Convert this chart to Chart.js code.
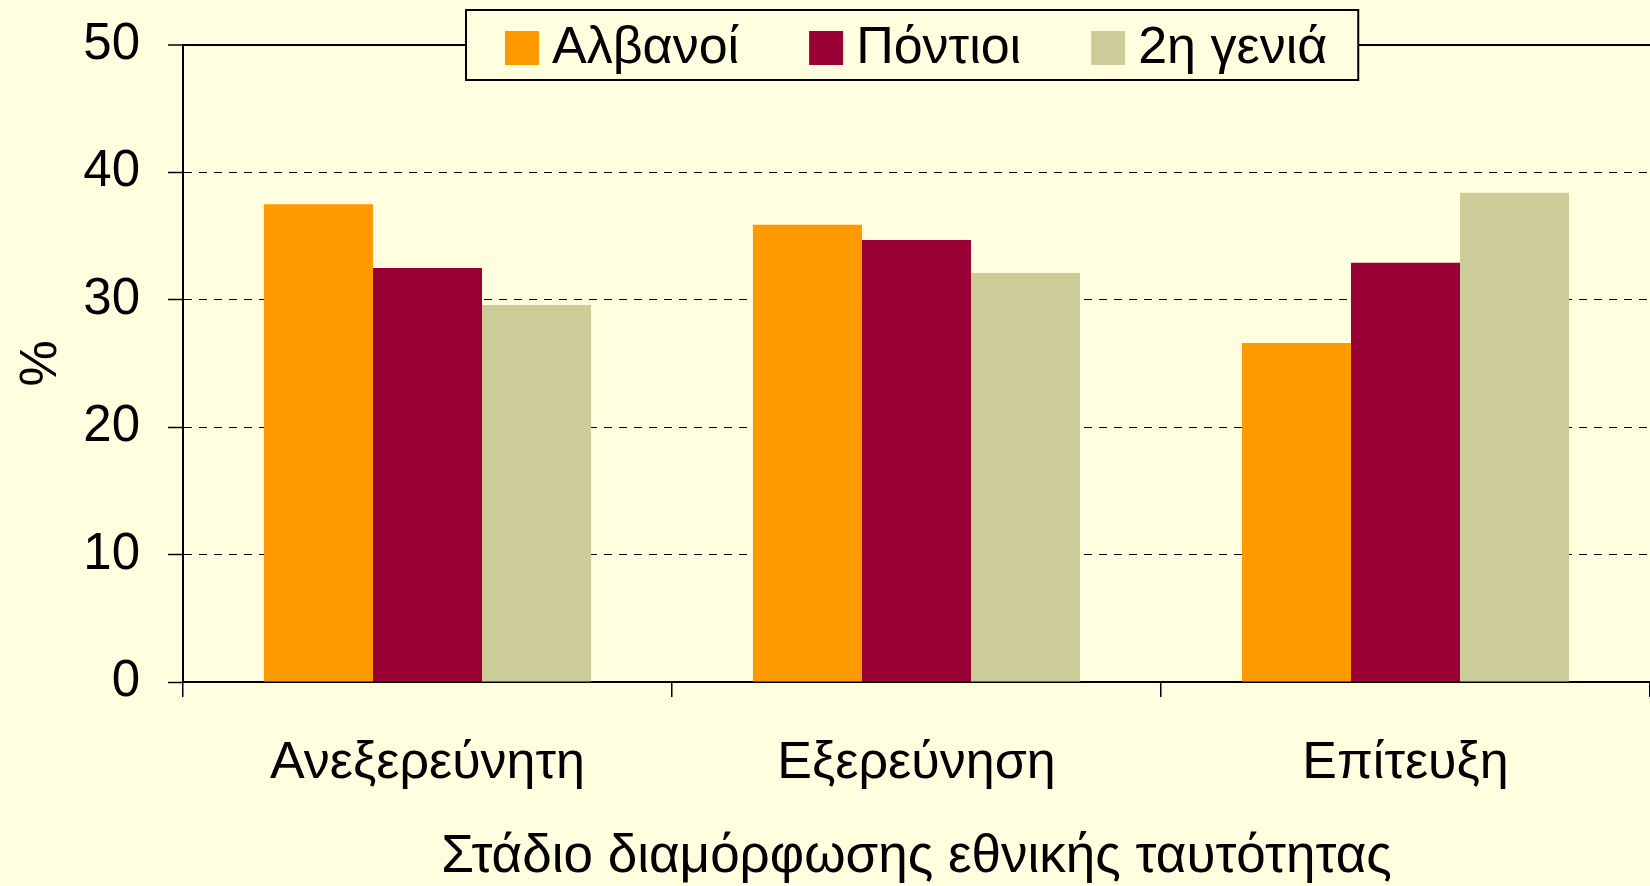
<!DOCTYPE html>
<html lang="el">
<head>
<meta charset="utf-8">
<title>Στάδιο διαμόρφωσης εθνικής ταυτότητας</title>
<script src="https://cdn.jsdelivr.net/npm/chart.js@4"></script>
<style>
    html, body { margin: 0; padding: 0; background: #FFFFE0; }
    #wrap { width: 1650px; height: 886px; position: relative; }
</style>
</head>
<body>
<div id="wrap"><canvas id="grafico"></canvas></div>
<script>
// ===== DADOS =====
const categorias = ['Ανεξερεύνητη', 'Εξερεύνηση', 'Επίτευξη'];
const series = ['Αλβανοί', 'Πόντιοι', '2η γενιά'];
const valoresAlbanoi = [37.5, 35.9, 26.6];
const valoresPontioi = [32.5, 34.7, 32.9];
const valores2hGenia = [29.6, 32.1, 38.4];
const cores = ['#FF9900', '#990033', '#CCCC99'];
const ticksY = [0, 10, 20, 30, 40, 50];

const FONTE = '"Liberation Sans", Arial, sans-serif';
const FUNDO = '#FFFFE0';

// Legenda em caixa, desenhada por cima da linha superior
const legendaCaixa = {
    id: 'legendaCaixa',
    afterDraw(chart) {
        const ctx = chart.ctx;
        const sets = chart.data.datasets;
        ctx.save();
        ctx.font = '52px ' + FONTE;
        const larguras = sets.map(d => ctx.measureText(d.label).width);
        const quad = 34, gapTexto = 13, gapItem = 70, padE = 39, padD = 31;
        let total = padE + padD + gapItem * (sets.length - 1);
        larguras.forEach(w => total += quad + gapTexto + w);
        const centro = 912;
        const topo = 10, altura = 70;
        const x0 = Math.round(centro - total / 2);

        ctx.fillStyle = FUNDO;
        ctx.fillRect(x0, topo, total, altura);
        ctx.lineWidth = 2;
        ctx.strokeStyle = '#000';
        ctx.strokeRect(x0, topo, total, altura);

        const meio = topo + altura / 2 + 3;
        let x = x0 + padE;
        sets.forEach((d, i) => {
            ctx.fillStyle = d.backgroundColor;
            ctx.fillRect(x, meio - quad / 2, quad, quad);
            x += quad + gapTexto;
            ctx.fillStyle = '#000';
            ctx.textBaseline = 'middle';
            ctx.textAlign = 'left';
            ctx.fillText(d.label, x, meio + 1);
            x += larguras[i] + gapItem;
        });
        ctx.restore();
    }
};

const ctx = document.getElementById('grafico');

new Chart(ctx, {
    type: 'bar',
    data: {
        labels: categorias,
        datasets: [
            { label: series[0], data: valoresAlbanoi, backgroundColor: cores[0] },
            { label: series[1], data: valoresPontioi, backgroundColor: cores[1] },
            { label: series[2], data: valores2hGenia, backgroundColor: cores[2] }
        ]
    },
    options: {
        responsive: true,
        maintainAspectRatio: false,
        animation: false,
        layout: {
            padding: { top: 45, right: 0, bottom: 0, left: 0 }
        },
        datasets: {
            bar: {
                categoryPercentage: 0.669,
                barPercentage: 1.0,
                borderWidth: 0
            }
        },
        plugins: {
            legend: { display: false },
            tooltip: { enabled: false }
        },
        scales: {
            x: {
                offset: true,
                afterFit(scale) { scale.height = 204; },
                grid: {
                    display: true,
                    drawOnChartArea: false,
                    offset: true,
                    color: '#000',
                    lineWidth: 1.5,
                    tickLength: 15
                },
                border: { display: true, color: '#000', width: 2 },
                ticks: {
                    color: '#000',
                    font: { family: FONTE, size: 52 },
                    padding: 35
                },
                title: {
                    display: true,
                    text: 'Στάδιο διαμόρφωσης εθνικής ταυτότητας',
                    color: '#000',
                    font: { family: FONTE, size: 53 },
                    padding: { top: 0, bottom: -3 }
                }
            },
            y: {
                min: 0,
                max: 50,
                afterFit(scale) {
                    scale.width = 183;
                    scale.paddingTop = 0;
                    scale.paddingBottom = 0;
                },
                afterBuildTicks(scale) {
                    scale.ticks = ticksY.map(v => ({ value: v }));
                },
                grid: {
                    color: '#000',
                    lineWidth: c => (c.tick && c.tick.value === 50 ? 2 : 1),
                    tickLength: 15,
                    tickWidth: 1.5,
                    tickColor: '#000',
                    tickBorderDash: []
                },
                border: {
                    display: true,
                    color: '#000',
                    width: 2,
                    dash: c => (c.tick && c.tick.value !== 50 ? [8, 7] : [])
                },
                ticks: {
                    color: '#000',
                    font: { family: FONTE, size: 51 },
                    padding: 28
                },
                title: {
                    display: true,
                    text: '%',
                    color: '#000',
                    font: { family: FONTE, size: 52 },
                    padding: { top: 10, bottom: 0 }
                }
            }
        }
    },
    plugins: [legendaCaixa]
});
</script>
</body>
</html>
